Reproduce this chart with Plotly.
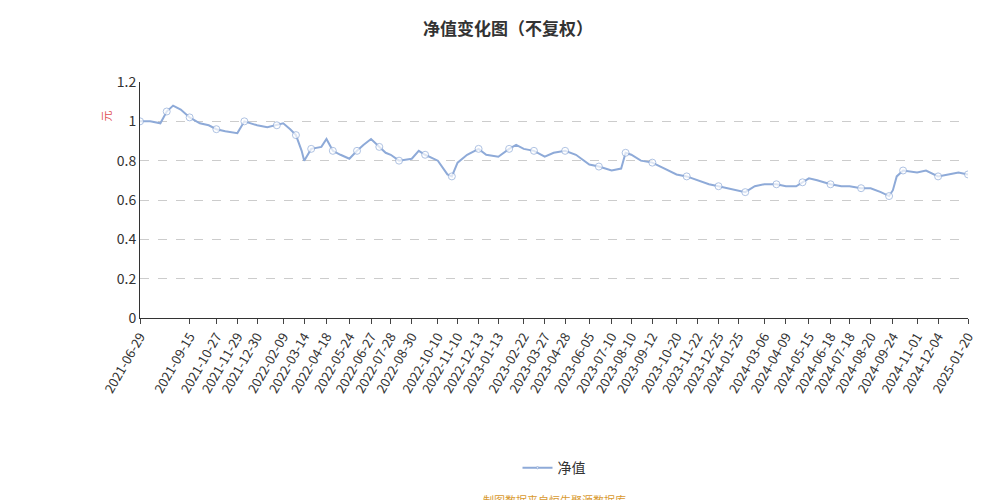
import plotly.graph_objects as go

dates = ["2021-06-29","2021-07-15","2021-07-31","2021-08-10","2021-08-20","2021-09-01","2021-09-15","2021-10-01","2021-10-15","2021-10-27","2021-11-10","2021-11-29","2021-12-10","2021-12-30",
"2022-01-15","2022-01-30","2022-02-09","2022-02-20","2022-03-01","2022-03-10","2022-03-14","2022-03-25","2022-04-10","2022-04-18","2022-04-28","2022-05-10","2022-05-24","2022-06-05","2022-06-15","2022-06-27","2022-07-10","2022-07-20","2022-07-28","2022-08-10","2022-08-30","2022-09-10","2022-09-20","2022-10-10","2022-10-25","2022-11-01","2022-11-10","2022-11-25","2022-12-13","2022-12-25",
"2023-01-13","2023-01-30","2023-02-10","2023-02-22","2023-03-10","2023-03-27","2023-04-10","2023-04-28","2023-05-15","2023-06-05","2023-06-20","2023-07-10","2023-07-25","2023-08-01","2023-08-10","2023-08-25","2023-09-12","2023-09-25","2023-10-20","2023-11-05","2023-11-22","2023-12-10","2023-12-25",
"2024-01-10","2024-01-25","2024-02-05","2024-02-20","2024-03-06","2024-03-25","2024-04-09","2024-04-25","2024-05-05","2024-05-15","2024-05-28","2024-06-18","2024-07-05","2024-07-18","2024-08-05","2024-08-20","2024-09-05","2024-09-18","2024-09-24","2024-09-30","2024-10-10","2024-11-01","2024-11-15","2024-12-04","2024-12-20","2025-01-05","2025-01-20"]
nav = [1.0,1.0,0.99,1.05,1.08,1.06,1.02,0.99,0.98,0.96,0.95,0.94,1.0,0.98,
0.97,0.98,0.99,0.96,0.93,0.85,0.80,0.86,0.87,0.91,0.85,0.83,0.81,0.85,0.88,0.91,0.87,0.84,0.83,0.80,0.81,0.85,0.83,0.80,0.73,0.72,0.79,0.83,0.86,0.83,
0.82,0.86,0.88,0.86,0.85,0.82,0.84,0.85,0.83,0.78,0.77,0.75,0.76,0.84,0.83,0.80,0.79,0.77,0.73,0.72,0.70,0.68,0.67,
0.66,0.65,0.64,0.67,0.68,0.68,0.67,0.67,0.69,0.71,0.70,0.68,0.67,0.67,0.66,0.66,0.64,0.62,0.65,0.72,0.75,0.74,0.75,0.72,0.73,0.74,0.73]
ticks = ["2021-06-29","2021-09-15","2021-10-27","2021-11-29","2021-12-30","2022-02-09","2022-03-14","2022-04-18","2022-05-24","2022-06-27","2022-07-28","2022-08-30","2022-10-10","2022-11-10","2022-12-13","2023-01-13","2023-02-22","2023-03-27","2023-04-28","2023-06-05","2023-07-10","2023-08-10","2023-09-12","2023-10-20","2023-11-22","2023-12-25","2024-01-25","2024-03-06","2024-04-09","2024-05-15","2024-06-18","2024-07-18","2024-08-20","2024-09-24","2024-11-01","2024-12-04","2025-01-20"]

sizes = [7 if i % 3 == 0 else 0 for i in range(len(nav))]
fig = go.Figure(go.Scatter(x=dates, y=nav, mode="lines+markers", name="净值", showlegend=True,
    line=dict(color="#8eaad8", width=2),
    marker=dict(size=sizes, color="white", line=dict(color="#8eaad8", width=1))))
fig.update_layout(width=1000, height=500, plot_bgcolor="white", paper_bgcolor="white",
    font=dict(family="Noto Sans CJK SC", size=13, color="#333"),
    title=dict(text="<b>净值变化图（不复权）</b>", x=0.5, y=0.97, font=dict(size=17)),
    margin=dict(l=132, r=40, t=74, b=190, autoexpand=False),
    showlegend=True,
    legend=dict(orientation="h", x=0.5, xanchor="center", y=-0.636, yanchor="middle", font=dict(size=14)),
    xaxis=dict(type="date", tickvals=ticks, ticktext=ticks, tickangle=-60, automargin=False,
        showline=True, linecolor="#333", ticks="outside", showgrid=False,
        range=["2021-06-29","2025-01-20"], tickfont=dict(size=13)),
    yaxis=dict(range=[0,1.2], dtick=0.2, showgrid=True, gridcolor="#ccc", griddash="dash", automargin=False,
        showline=True, linecolor="#333", zeroline=False, tickfont=dict(size=14)))
fig.add_annotation(text="元", xref="paper", yref="paper", x=-0.052, y=0.89, showarrow=False,
    textangle=-90, font=dict(color="#e05050", size=11))
fig.add_annotation(text="制图数据来自恒生聚源数据库", xref="paper", yref="paper", x=0.5, y=-0.77,
    yanchor="middle", showarrow=False, font=dict(color="#d99a30", size=11))
fig.write_html("out.html")
